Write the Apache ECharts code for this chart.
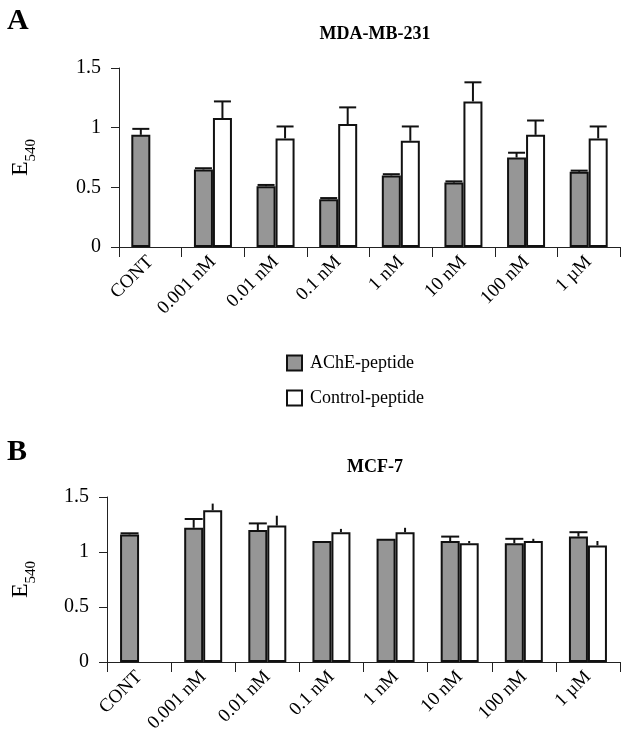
<!DOCTYPE html>
<html>
<head>
<meta charset="utf-8">
<script src="https://cdn.jsdelivr.net/npm/echarts@6/dist/echarts.min.js"></script>
<style>
  html, body { margin: 0; padding: 0; background: #fff; }
  #chart { width: 627px; height: 748px; }
</style>
</head>
<body>
<div id="chart"></div>
<script>
  // concentrations on the x axis (same for both panels)
  const categories = ['CONT', '0.001 nM', '0.01 nM', '0.1 nM', '1 nM', '10 nM', '100 nM', '1 \u00b5M'];

  // panel A: MDA-MB-231
  const mdaAche = [0.94, 0.65, 0.51, 0.40, 0.60, 0.54, 0.75, 0.63];
  const mdaAcheSd = [0.05, 0.01, 0.01, 0.01, 0.01, 0.01, 0.04, 0.01];
  const mdaControl = ['-', 1.08, 0.91, 1.03, 0.89, 1.22, 0.94, 0.91];
  const mdaControlSd = ['-', 0.14, 0.10, 0.14, 0.12, 0.16, 0.12, 0.10];

  // panel B: MCF-7
  const mcfAche = [1.16, 1.22, 1.20, 1.10, 1.12, 1.10, 1.08, 1.14];
  const mcfAcheSd = [0.01, 0.08, 0.06, 0, 0, 0.04, 0.04, 0.04];
  const mcfControl = ['-', 1.38, 1.24, 1.18, 1.18, 1.08, 1.10, 1.06];
  const mcfControlSd = ['-', 0.06, 0.09, 0.03, 0.04, 0.02, 0.02, 0.04];

  const yTicks = { min: 0, max: 1.5, interval: 0.5 };

  const serif = 'Liberation Serif';
  const BAR_W = 19;
  const grey = '#969696';

  const chart = echarts.init(document.getElementById('chart'));

  // upper error bar only, drawn from the bar top
  const errorSeries = (name, gridIdx, means, sds, side, capW) => ({
    name: name,
    type: 'custom',
    xAxisIndex: gridIdx,
    yAxisIndex: gridIdx,
    z: 3,
    data: means.map((m, i) => [i, m, sds[i]]),
    renderItem: (params, api) => {
      const m = api.value(1);
      const s = api.value(2);
      if (isNaN(m) || !s) return;
      const p0 = api.coord([api.value(0), m]);
      const p1 = api.coord([api.value(0), m + s]);
      const cx = p0[0] + side * BAR_W / 2;
      const children = [{
        type: 'line',
        shape: { x1: cx, y1: p0[1], x2: cx, y2: p1[1] },
        style: { stroke: '#111', lineWidth: 2 },
      }];
      if (capW) {
        children.push({
          type: 'line',
          shape: { x1: cx - capW / 2, y1: p1[1], x2: cx + capW / 2, y2: p1[1] },
          style: { stroke: '#111', lineWidth: 2 },
        });
      }
      return { type: 'group', children: children };
    },
  });

  const barSeries = (name, gridIdx, data, color) => ({
    name: name,
    type: 'bar',
    xAxisIndex: gridIdx,
    yAxisIndex: gridIdx,
    barWidth: BAR_W,
    barGap: '0%',
    data: data,
    itemStyle: { color: color, borderColor: '#111', borderWidth: 2 },
  });

  const xAxisFor = (gridIdx) => ({
    type: 'category',
    gridIndex: gridIdx,
    data: categories,
    axisLine: { lineStyle: { color: '#222', width: 1 } },
    axisTick: { show: true, length: 10, lineStyle: { color: '#222' } },
    axisLabel: {
      interval: 0,
      rotate: 45,
      margin: 12,
      color: '#000',
      fontFamily: serif,
      fontSize: 19,
    },
  });

  const yAxisFor = (gridIdx, gap) => ({
    type: 'value',
    gridIndex: gridIdx,
    min: yTicks.min,
    max: yTicks.max,
    interval: yTicks.interval,
    name: '{e|E}{s|540}',
    nameLocation: 'middle',
    nameRotate: 90,
    nameGap: gap,
    nameTextStyle: {
      rich: {
        e: { fontFamily: serif, fontSize: 24, color: '#000', verticalAlign: 'top', lineHeight: 30 },
        s: { fontFamily: serif, fontSize: 15, color: '#000', verticalAlign: 'bottom', lineHeight: 30 },
      },
    },
    axisLine: { show: true, lineStyle: { color: '#222', width: 1 } },
    axisTick: { show: true, length: 8, lineStyle: { color: '#222' } },
    splitLine: { show: false },
    axisLabel: {
      margin: 18,
      color: '#000',
      fontFamily: serif,
      fontSize: 20,
      formatter: (v) => String(v),
    },
  });

  const option = {
    animation: false,
    backgroundColor: '#fff',
    graphic: [
      { type: 'text', left: 7, top: 6, style: { text: 'A', font: 'bold 30px "Liberation Serif"', fill: '#000' } },
      { type: 'text', x: 375, y: 34, style: { text: 'MDA-MB-231', font: 'bold 18px "Liberation Serif"', fill: '#000', textAlign: 'center', textVerticalAlign: 'middle' } },
      { type: 'text', left: 7, top: 437, style: { text: 'B', font: 'bold 30px "Liberation Serif"', fill: '#000' } },
      { type: 'text', x: 375, y: 467, style: { text: 'MCF-7', font: 'bold 18px "Liberation Serif"', fill: '#000', textAlign: 'center', textVerticalAlign: 'middle' } },
    ],
    legend: {
      data: ['AChE-peptide', 'Control-peptide'],
      orient: 'vertical',
      left: 281,
      top: 349,
      itemWidth: 15,
      itemHeight: 15,
      itemGap: 17,
      icon: 'rect',
      selectedMode: false,
      textStyle: { fontFamily: serif, fontSize: 18, color: '#000', padding: [0, 0, 0, 3] },
    },
    grid: [
      { left: 119, top: 68, right: 7, height: 179 },
      { left: 107, top: 497, right: 7, height: 165 },
    ],
    xAxis: [xAxisFor(0), xAxisFor(1)],
    yAxis: [yAxisFor(0, 80), yAxisFor(1, 68)],
    series: [
      barSeries('AChE-peptide', 0, mdaAche, grey),
      barSeries('Control-peptide', 0, mdaControl, '#fff'),
      barSeries('AChE-peptide', 1, mcfAche, grey),
      barSeries('Control-peptide', 1, mcfControl, '#fff'),
      errorSeries('errA1', 0, mdaAche, mdaAcheSd, -1, 17),
      errorSeries('errA2', 0, mdaControl, mdaControlSd, 1, 17),
      errorSeries('errB1', 1, mcfAche, mcfAcheSd, -1, 18),
      errorSeries('errB2', 1, mcfControl, mcfControlSd, 1, 0),
    ],
  };

  chart.setOption(option);
</script>
</body>
</html>
